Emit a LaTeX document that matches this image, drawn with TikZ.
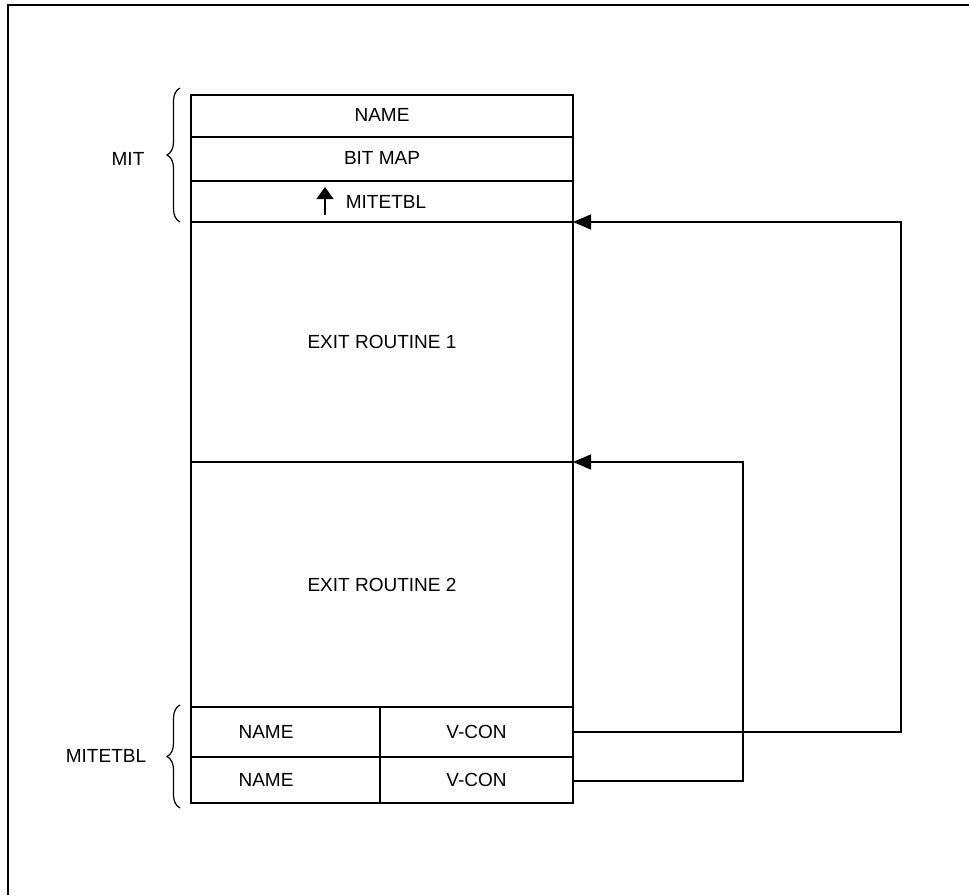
\documentclass[tikz,border=0pt]{standalone}
\usepackage{fontspec}
\setmainfont{Liberation Sans}
\usetikzlibrary{arrows.meta,decorations.pathreplacing}
\begin{document}
\begin{tikzpicture}[x=1pt,y=-1pt,
  every node/.style={font=\fontsize{19}{22}\selectfont},
  cell/.style={draw,line width=1.4pt,inner sep=0pt,outer sep=0pt,minimum width=382pt},
  halfcell/.style={draw,line width=1.4pt,inner sep=0pt,outer sep=0pt},
  link/.style={line width=1.6pt,-{Triangle[length=18pt,width=15pt]}},
  curly/.style={line width=1.2pt,decorate,decoration={brace,amplitude=13pt}},
  frame/.style={line width=1.8pt}]
\useasboundingbox (0,0) rectangle (969,895);
\draw[frame] (8,895) -- (8,5) -- (969,5);
% MIT part
\node[cell,minimum height=42pt] (name) at (382,116) {};
\node at (382,115) {NAME};
\node[cell,minimum height=44pt] (bitmap) at (382,159) {};
\node at (382,158) {BIT MAP};
\node[cell,minimum height=41pt] (mitetbl) at (382,201.5) {};
\node (mitetbltxt) at (386,202) {MITETBL};
\coordinate (upa) at (325,215);
\coordinate (upb) at (325,187);
\draw[line width=1.2pt,-{Triangle[length=12pt,width=17pt]}] (upa) -- (upb);
% exit routines
\node[cell,minimum height=240pt] (exit1) at (382,342) {EXIT ROUTINE 1};
\node[cell,minimum height=245pt] (exit2) at (382,584.5) {EXIT ROUTINE 2};
% MITETBL entries
\node[halfcell,minimum width=189pt,minimum height=50pt] (n1) at (285.5,732) {};
\node[halfcell,minimum width=193pt,minimum height=50pt] (v1) at (476.5,732) {V-CON};
\node[halfcell,minimum width=189pt,minimum height=46pt] (n2) at (285.5,780) {};
\node[halfcell,minimum width=193pt,minimum height=46pt] (v2) at (476.5,780) {V-CON};
\node[anchor=west] (n1txt) at (235,732) {NAME};
\node[anchor=west] (n2txt) at (235,780) {NAME};
% braces and labels
\coordinate (b1a) at (180,222);
\coordinate (b1b) at (180,88);
\draw[curly] (b1a) -- (b1b);
\node (mitlbl) at (128,159) {MIT};
\coordinate (b2a) at (180,808);
\coordinate (b2b) at (180,705);
\draw[curly] (b2a) -- (b2b);
\node (mitetbllbl) at (106,756) {MITETBL};
% connectors
\coordinate (r1) at (901,732);
\coordinate (r2) at (743,781);
\draw[link] (v1.east) -- (r1) -- (r1 |- exit1.north) -- (exit1.north east);
\draw[link] (v2.east |- r2) -- (r2) -- (r2 |- exit2.north) -- (exit2.north east);
\end{tikzpicture}
\end{document}
